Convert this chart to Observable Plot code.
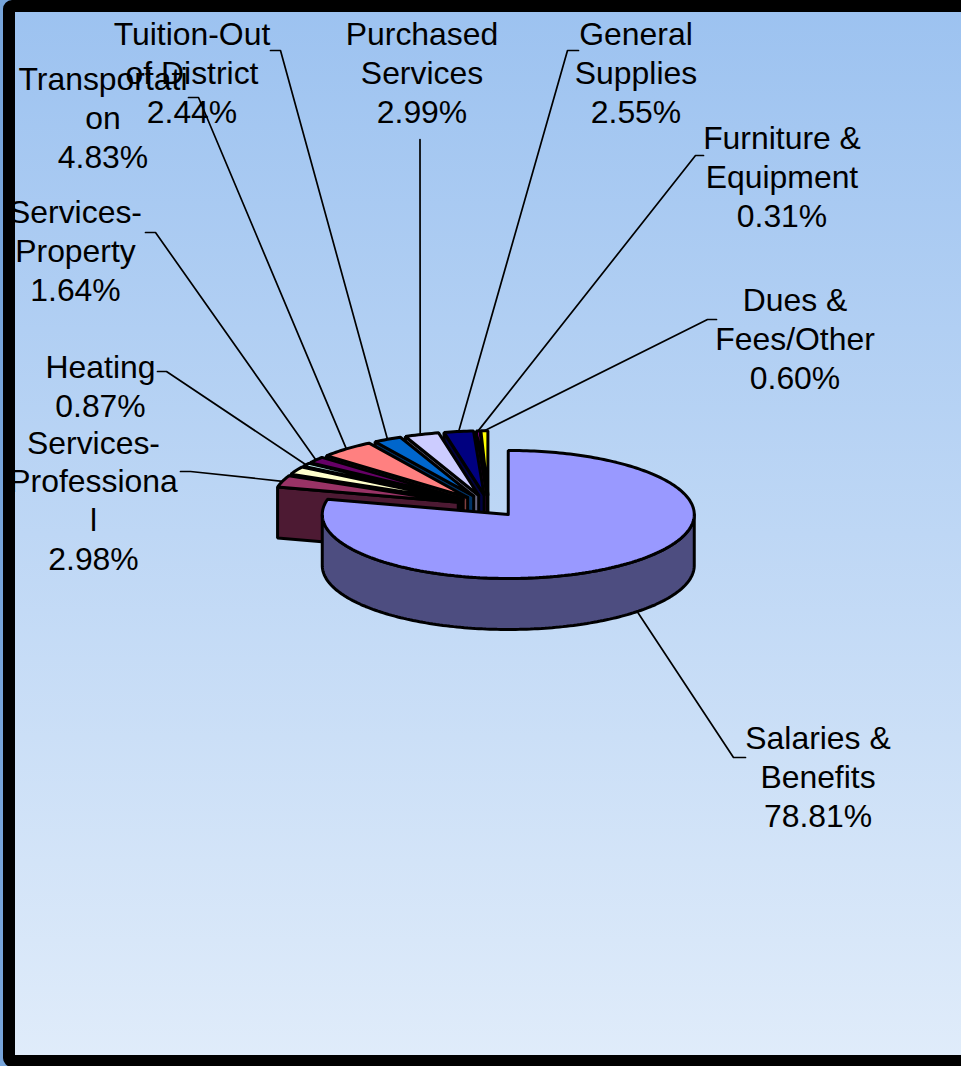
<!DOCTYPE html>
<html><head><meta charset="utf-8">
<script src="https://cdn.jsdelivr.net/npm/d3@7"></script>
<script src="https://cdn.jsdelivr.net/npm/@observablehq/plot@0.6"></script>
<style>html,body{margin:0;padding:0;overflow:hidden}svg{display:block}</style>
</head><body><div id="chart"></div>
<script>
// Data
const categories = ["Salaries & Benefits","Services-Professional","(unlabelled)","Heating","Services-Property","Transportation","Tuition-Out of District","Purchased Services","General Supplies","Furniture & Equipment","Dues & Fees/Other"];
const shares = [78.81,2.98,1.98,0.87,1.64,4.83,2.44,2.99,2.55,0.31,0.60];
const labelLines = ["Salaries &\nBenefits\n78.81%","Services-\nProfessiona\nl\n2.98%",null,"Heating\n0.87%","Services-\nProperty\n1.64%","Transportati\non\n4.83%","Tuition-Out\nof District\n2.44%","Purchased\nServices\n2.99%","General\nSupplies\n2.55%","Furniture &\nEquipment\n0.31%","Dues &\nFees/Other\n0.60%"];
const topColors = ["#9999FF","#993366","#FFFFCC","#CCFFFF","#660066","#FF8080","#0066CC","#CCCCFF","#000080","#FF00FF","#FFFF00"];
const wallColors = ["#4D4D80","#4D1A33","#808066","#668080","#330033","#804040","#003366","#666680","#000040","#800080","#808000"];

// Layout (chart units equal pixels)
const W = 961, H = 1066;
const pie = {cx:488, cy:505.3, rx:186, ry:64, depth:51, explode:0.172};
const labelX = [817.5,93,null,100,75,102.5,191.5,421.5,635.5,781.5,794.5];
const labelY = [775,499,null,384.5,249,116,71,71,71,175,337];
const stubX  = [[745,733],[180,190],null,[157,166],[145,155],[188,198],[270,280],[419.5,419.5],[578,567],[703,695],[716,707]];
const stubY  = [757,471,null,371,232,97,50,139,50,155,319];
const leaderNudgeX = [0,0,0,0,0,0,0,-1.5,0,0,0];

// Slice geometry derived from the values
let acc = 0;
const slices = shares.map((v,i)=>{
  const a0 = acc/100*2*Math.PI; acc += v;
  const a1 = acc/100*2*Math.PI, mid=(a0+a1)/2;
  const ox = pie.cx + Math.sin(mid)*pie.explode*pie.rx;
  const oy = pie.cy - Math.cos(mid)*pie.explode*pie.ry;
  return {i,a0,a1,mid,ox,oy};
});
const pt = (s,a,dz=0)=>({x:s.ox+Math.sin(a)*pie.rx, y:s.oy-Math.cos(a)*pie.ry+dz});
const pieces = [];
let pid = 0;
function add(points,color){ const id=pid++; points.concat(points[0]).forEach(p=>pieces.push({...p,id,color})); }
function arc(s,a0,a1,dz=0){ const n=Math.max(2,Math.ceil((a1-a0)/0.02)); return d3.range(n+1).map(k=>pt(s,a0+(a1-a0)*k/n,dz)); }
// back to front: last slice first, main slice drawn last
for (let i=slices.length-1;i>=0;i--){
  const s=slices[i], c={x:s.ox,y:s.oy};
  if (i>0){
    const o=pt(s,s.a0);
    add([c,o,{x:o.x,y:o.y+pie.depth},{x:c.x,y:c.y+pie.depth}],wallColors[i]);
  } else {
    add([...arc(s,Math.PI/2,3*Math.PI/2),...arc(s,Math.PI/2,3*Math.PI/2,pie.depth).reverse()],wallColors[i]);
  }
  add([c,...arc(s,s.a0,s.a1)],topColors[i]);
}
const leaders=[];
slices.forEach(s=>{ if(!stubX[s.i])return; const e=pt(s,s.mid,s.i===0?pie.depth/2:0);
  [[stubX[s.i][0],stubY[s.i]],[stubX[s.i][1],stubY[s.i]],[e.x+leaderNudgeX[s.i],e.y]].forEach(p=>leaders.push({x:p[0],y:p[1],id:s.i}));
});
const labels = labelLines.map((t,i)=>({t,x:labelX[i],y:labelY[i]})).filter(d=>d.t);

const chart = Plot.plot({
  width:W,height:H,margin:0,
  x:{domain:[0,W],range:[0,W],axis:null},
  y:{domain:[0,H],range:[0,H],axis:null},
  color:{type:"identity"},
  style:{background:"linear-gradient(180deg,#9CC2F0 0%,#E0ECFA 100%)",overflow:"hidden"},
  marks:[
    Plot.text(labels,{x:"x",y:"y",text:"t",fontFamily:"Liberation Sans",fontSize:31.9,lineHeight:1.222,fill:"#000",textAnchor:"middle",lineAnchor:"middle"}),
    Plot.line(leaders,{x:"x",y:"y",z:"id",stroke:"#000",strokeWidth:1.7,curve:"linear"}),
    Plot.line(pieces,{x:"x",y:"y",z:"id",fill:"color",stroke:"#000",strokeWidth:3,strokeLinejoin:"miter",curve:"linear"}),
    Plot.rect([{x1:0,x2:12,y1:0,y2:H}],{x1:"x1",x2:"x2",y1:"y1",y2:"y2",fill:"#76A4DA"}),
    Plot.rect([{x1:9,x2:1000,y1:6,y2:1061}],{x1:"x1",x2:"x2",y1:"y1",y2:"y2",fill:"none",stroke:"#000",strokeWidth:12,rx:3})
  ]
});
document.getElementById("chart").append(chart);
</script></body></html>
